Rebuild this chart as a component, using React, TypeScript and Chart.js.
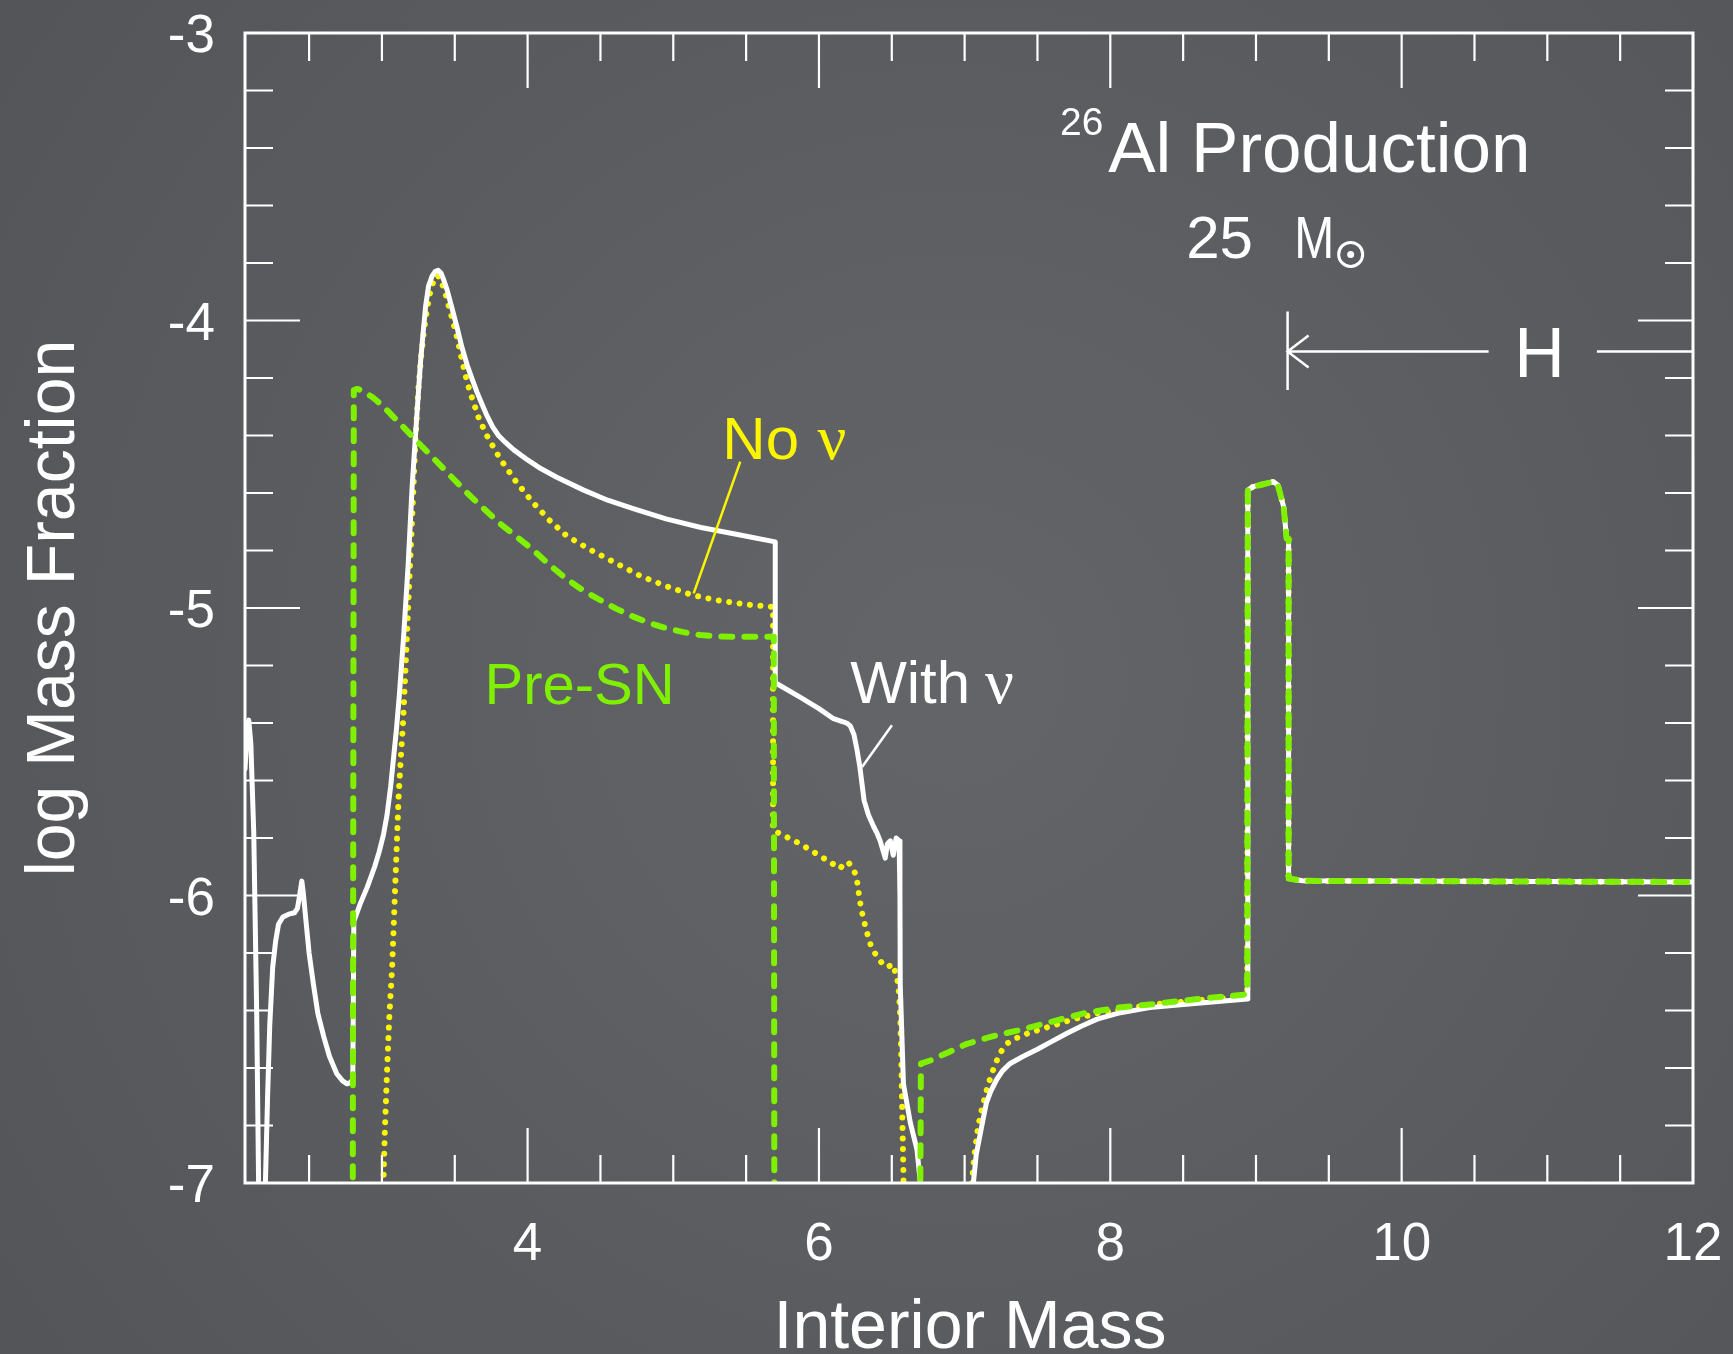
import { useEffect, useRef } from 'react';
import { Chart, registerables } from 'chart.js';

Chart.register(...registerables);

// ---------- data ----------
// "With ν" (white, solid)
const withNuX = [2.06, 2.075, 2.086, 2.10, 2.12, 2.14, 2.16, 2.19, 2.20, 2.215, 2.23, 2.25, 2.27, 2.29, 2.32, 2.36, 2.40, 2.42, 2.435, 2.45, 2.46, 2.475, 2.50, 2.53, 2.56, 2.60, 2.64, 2.69, 2.73, 2.76, 2.785, 2.80, 2.807, 2.85, 2.90, 2.95, 2.98, 3.01, 3.035, 3.06, 3.08, 3.10, 3.12, 3.15, 3.18, 3.207, 3.237, 3.264, 3.285, 3.30, 3.32, 3.345, 3.365, 3.386, 3.405, 3.425, 3.448, 3.48, 3.516, 3.55, 3.585, 3.62, 3.653, 3.69, 3.72, 3.76, 3.80, 3.85, 3.905, 4.0, 4.09, 4.2, 4.385, 4.55, 4.73, 4.95, 5.19, 5.45, 5.70, 5.70, 5.87, 6.0, 6.10, 6.16, 6.19, 6.215, 6.24, 6.26, 6.28, 6.295, 6.31, 6.34, 6.375, 6.40, 6.42, 6.455, 6.47, 6.49, 6.51, 6.53, 6.55, 6.556, 6.558, 6.58, 6.627, 6.673, 6.696, 6.70, 7.05, 7.06, 7.08, 7.107, 7.13, 7.15, 7.18, 7.22, 7.26, 7.31, 7.40, 7.50, 7.59, 7.70, 7.80, 7.91, 8.05, 8.27, 8.60, 8.94, 8.944, 8.98, 9.12, 9.15, 9.19, 9.21, 9.224, 9.224, 9.32, 12.0];
const withNuY = [-5.56, -5.42, -5.39, -5.47, -5.78, -6.4, -7.3, -7.3, -7.0, -6.70, -6.45, -6.25, -6.16, -6.10, -6.075, -6.065, -6.06, -6.045, -6.0, -5.95, -5.99, -6.07, -6.20, -6.31, -6.41, -6.49, -6.56, -6.62, -6.645, -6.655, -6.65, -6.64, -6.09, -6.03, -5.97, -5.90, -5.85, -5.79, -5.72, -5.62, -5.52, -5.42, -5.30, -5.09, -4.85, -4.58, -4.35, -4.15, -4.03, -3.95, -3.88, -3.845, -3.83, -3.825, -3.835, -3.86, -3.895, -3.955, -4.025, -4.095, -4.155, -4.205, -4.25, -4.295, -4.33, -4.37, -4.40, -4.425, -4.45, -4.485, -4.515, -4.545, -4.59, -4.625, -4.655, -4.69, -4.72, -4.745, -4.77, -5.26, -5.31, -5.35, -5.385, -5.395, -5.40, -5.41, -5.44, -5.49, -5.55, -5.61, -5.67, -5.72, -5.76, -5.785, -5.81, -5.87, -5.82, -5.81, -5.86, -5.80, -5.81, -6.0, -6.31, -6.655, -6.79, -6.884, -7.0, -7.3, -7.3, -7.0, -6.90, -6.83, -6.77, -6.72, -6.68, -6.64, -6.61, -6.585, -6.56, -6.535, -6.51, -6.48, -6.455, -6.43, -6.41, -6.39, -6.375, -6.36, -4.59, -4.578, -4.561, -4.572, -4.648, -4.758, -4.76, -5.941, -5.949, -5.953];

// "No ν" (yellow, dotted)
const noNuX = [3.006, 3.01, 3.02, 3.036, 3.05, 3.07, 3.085, 3.10, 3.115, 3.13, 3.145, 3.161, 3.184, 3.207, 3.23, 3.25, 3.27, 3.29, 3.31, 3.33, 3.35, 3.365, 3.379, 3.395, 3.41, 3.43, 3.448, 3.48, 3.516, 3.55, 3.585, 3.625, 3.665, 3.72, 3.81, 3.92, 4.04, 4.15, 4.27, 4.44, 4.61, 4.78, 4.957, 5.13, 5.30, 5.50, 5.685, 5.685, 5.87, 6.0, 6.146, 6.17, 6.20, 6.225, 6.25, 6.265, 6.28, 6.30, 6.33, 6.36, 6.40, 6.44, 6.467, 6.485, 6.50, 6.52, 6.536, 6.55, 6.558, 6.565, 6.57, 6.58, 6.585, 7.045, 7.05, 7.065, 7.085, 7.105, 7.13, 7.16, 7.20, 7.24, 7.29, 7.36, 7.43, 7.59, 7.75, 7.91, 8.27, 8.60, 8.94, 8.944, 8.98, 9.12, 9.15, 9.19, 9.21, 9.224, 9.224, 9.32, 12.0];
const noNuY = [-7.3, -7.0, -6.82, -6.60, -6.43, -6.25, -6.05, -5.85, -5.65, -5.52, -5.40, -5.22, -4.95, -4.69, -4.42, -4.24, -4.12, -4.03, -3.96, -3.905, -3.87, -3.85, -3.843, -3.85, -3.868, -3.897, -3.93, -3.99, -4.06, -4.14, -4.215, -4.28, -4.34, -4.40, -4.48, -4.56, -4.635, -4.695, -4.75, -4.80, -4.845, -4.89, -4.925, -4.955, -4.973, -4.988, -4.996, -5.773, -5.82, -5.86, -5.906, -5.89, -5.884, -5.90, -5.924, -5.96, -6.017, -6.07, -6.13, -6.18, -6.214, -6.24, -6.249, -6.245, -6.238, -6.26, -6.287, -6.34, -6.42, -6.56, -6.71, -6.97, -7.3, -7.3, -7.0, -6.91, -6.83, -6.77, -6.72, -6.66, -6.60, -6.55, -6.515, -6.495, -6.48, -6.455, -6.43, -6.41, -6.38, -6.365, -6.35, -4.59, -4.578, -4.561, -4.572, -4.648, -4.758, -4.76, -5.941, -5.949, -5.953];

// "Pre-SN" (green, dashed)
const preSnX = [2.80, 2.80, 2.807, 2.83, 2.86, 2.898, 2.93, 2.967, 3.01, 3.05, 3.127, 3.24, 3.356, 3.47, 3.585, 3.70, 3.81, 3.92, 4.04, 4.15, 4.27, 4.385, 4.50, 4.61, 4.73, 4.84, 4.957, 5.07, 5.186, 5.30, 5.45, 5.69, 5.694, 6.69, 6.696, 6.70, 6.764, 6.89, 7.016, 7.19, 7.36, 7.59, 7.816, 8.05, 8.274, 8.60, 8.914, 8.94, 8.944, 8.98, 9.12, 9.15, 9.19, 9.21, 9.224, 9.224, 9.32, 12.0];
const preSnY = [-7.3, -7.0, -4.242, -4.238, -4.243, -4.255, -4.265, -4.28, -4.30, -4.32, -4.36, -4.42, -4.48, -4.54, -4.60, -4.655, -4.706, -4.75, -4.799, -4.85, -4.90, -4.94, -4.973, -5.003, -5.031, -5.053, -5.071, -5.084, -5.094, -5.099, -5.10, -5.10, -7.3, -7.3, -7.0, -6.585, -6.574, -6.545, -6.516, -6.49, -6.47, -6.44, -6.41, -6.39, -6.379, -6.36, -6.345, -6.34, -4.59, -4.578, -4.561, -4.572, -4.648, -4.758, -4.76, -5.941, -5.949, -5.953];

// axes
const xMin = 2.06;
const xMax = 12;
const yMin = -7;
const yMax = -3;
const xTickLabels = [4, 6, 8, 10, 12];
const yTickLabels = [-3, -4, -5, -6, -7];
const xMinorStep = 0.5;
const yMinorStep = 0.2;

// annotation anchors (data coordinates)
const hBoundary = 9.217;
const hArrowY = -4.108;

const WHITE = '#ffffff';
const YELLOW = '#fbf500';
const GREEN = '#7ff000';
const SANS = '"Liberation Sans", Arial, Helvetica, sans-serif';
const SERIF = '"Liberation Serif", "DejaVu Serif", serif';

const toPoints = (xs: number[], ys: number[]) => xs.map((x, i) => ({ x, y: ys[i] }));

const overlayPlugin = {
  id: 'overlay',
  beforeDraw(chart: any) {
    const { ctx, width, height } = chart;
    ctx.save();
    const g = ctx.createRadialGradient(width * 0.55, height * 0.5, 80, width * 0.55, height * 0.5, 1150);
    g.addColorStop(0, '#626468');
    g.addColorStop(1, '#535559');
    ctx.fillStyle = g;
    ctx.fillRect(0, 0, width, height);
    ctx.restore();
  },
  afterDraw(chart: any) {
    const { ctx } = chart;
    const xs = chart.scales.x;
    const ys = chart.scales.y;
    const { left, right, top, bottom } = chart.chartArea;
    const X = (v: number) => xs.getPixelForValue(v);
    const Y = (v: number) => ys.getPixelForValue(v);

    ctx.save();
    ctx.strokeStyle = WHITE;
    ctx.fillStyle = WHITE;
    ctx.lineCap = 'butt';

    // ticks (inward, on all four sides)
    ctx.lineWidth = 2.2;
    const majorLen = 55;
    const minorLen = 28;
    const xStart = Math.ceil(xMin / xMinorStep);
    const xEnd = Math.floor(xMax / xMinorStep);
    for (let k = xStart; k <= xEnd; k++) {
      const v = k * xMinorStep;
      const isMajor = xTickLabels.some((t) => Math.abs(t - v) < 1e-6);
      const len = isMajor ? majorLen : minorLen;
      const px = X(v);
      ctx.beginPath();
      ctx.moveTo(px, bottom);
      ctx.lineTo(px, bottom - len);
      ctx.moveTo(px, top);
      ctx.lineTo(px, top + len);
      ctx.stroke();
    }
    const yStart = Math.round(yMin / yMinorStep);
    const yEnd = Math.round(yMax / yMinorStep);
    for (let k = yStart; k <= yEnd; k++) {
      const v = k * yMinorStep;
      const isMajor = yTickLabels.some((t) => Math.abs(t - v) < 1e-6);
      const len = isMajor ? majorLen : minorLen;
      const py = Y(v);
      ctx.beginPath();
      ctx.moveTo(left, py);
      ctx.lineTo(left + len, py);
      ctx.moveTo(right, py);
      ctx.lineTo(right - len, py);
      ctx.stroke();
    }

    // frame
    ctx.lineWidth = 3;
    ctx.strokeRect(left, top, right - left, bottom - top);

    // tick labels
    ctx.font = `53px ${SANS}`;
    ctx.textBaseline = 'alphabetic';
    ctx.textAlign = 'right';
    yTickLabels.forEach((t) => ctx.fillText(String(t), left - 30, Y(t) + 19));
    ctx.textAlign = 'center';
    xTickLabels.forEach((t) => ctx.fillText(String(t), X(t), bottom + 77));

    // axis titles
    ctx.font = `68px ${SANS}`;
    ctx.textAlign = 'center';
    ctx.fillText('Interior Mass', (left + right) / 2 + 1, bottom + 165);
    ctx.save();
    ctx.translate(74, (top + bottom) / 2);
    ctx.rotate(-Math.PI / 2);
    ctx.fillText('log Mass Fraction', 0, 0);
    ctx.restore();

    // title block
    ctx.textAlign = 'left';
    ctx.font = `39px ${SANS}`;
    ctx.fillText('26', X(7.655), Y(-3.354));
    ctx.font = `71px ${SANS}`;
    ctx.fillText('Al Production', X(7.986), Y(-3.483));
    ctx.font = `60px ${SANS}`;
    ctx.fillText('25', X(8.521), Y(-3.782));
    ctx.save();
    ctx.translate(X(9.262), Y(-3.782));
    ctx.scale(0.8, 1);
    ctx.fillText('M', 0, 0);
    ctx.restore();
    // solar symbol
    const sx = X(9.65);
    const sy = Y(-3.77);
    ctx.lineWidth = 3;
    ctx.beginPath();
    ctx.arc(sx, sy, 12, 0, Math.PI * 2);
    ctx.stroke();
    ctx.beginPath();
    ctx.arc(sx, sy, 3.5, 0, Math.PI * 2);
    ctx.fill();

    // H boundary arrow
    ctx.lineWidth = 2.5;
    const hx = X(hBoundary);
    const hy = Y(hArrowY);
    ctx.beginPath();
    ctx.moveTo(hx, Y(-3.969));
    ctx.lineTo(hx, Y(-4.242));
    ctx.moveTo(hx, hy);
    ctx.lineTo(X(10.597), hy);
    ctx.moveTo(X(11.34), hy);
    ctx.lineTo(right, hy);
    ctx.moveTo(hx + 21, hy - 16);
    ctx.lineTo(hx, hy);
    ctx.lineTo(hx + 21, hy + 16);
    ctx.stroke();
    ctx.font = `70px ${SANS}`;
    ctx.textAlign = 'center';
    ctx.fillText('H', X(10.947), Y(-4.195));

    // series labels
    ctx.textAlign = 'left';
    ctx.font = `60px ${SANS}`;
    ctx.fillStyle = YELLOW;
    ctx.fillText('No', X(5.337), Y(-4.483));
    ctx.font = `64px ${SERIF}`;
    ctx.fillText('ν', X(5.99), Y(-4.483));
    ctx.strokeStyle = YELLOW;
    ctx.lineWidth = 2.5;
    ctx.beginPath();
    ctx.moveTo(X(5.46), Y(-4.491));
    ctx.lineTo(X(5.14), Y(-4.949));
    ctx.stroke();

    ctx.fillStyle = GREEN;
    ctx.font = `58px ${SANS}`;
    ctx.fillText('Pre-SN', X(3.704), Y(-5.334));

    ctx.fillStyle = WHITE;
    ctx.font = `60px ${SANS}`;
    ctx.fillText('With', X(6.214), Y(-5.332));
    ctx.font = `64px ${SERIF}`;
    ctx.fillText('ν', X(7.14), Y(-5.332));
    ctx.strokeStyle = WHITE;
    ctx.lineWidth = 2.5;
    ctx.beginPath();
    ctx.moveTo(X(6.501), Y(-5.408));
    ctx.lineTo(X(6.296), Y(-5.553));
    ctx.stroke();

    ctx.restore();
  },
};

export default function App() {
  const ref = useRef<HTMLCanvasElement | null>(null);

  useEffect(() => {
    document.body.style.margin = '0';
    const canvas = ref.current;
    if (!canvas) return;
    const chart = new Chart(canvas, {
      type: 'line',
      data: {
        datasets: [
          {
            label: 'Pre-SN',
            data: toPoints(preSnX, preSnY),
            borderColor: GREEN,
            borderWidth: 6,
            borderDash: [11, 12],
            borderCapStyle: 'round',
            borderJoinStyle: 'round',
            pointRadius: 0,
            tension: 0,
            order: 0,
            clip: 0,
          },
          {
            label: 'With ν',
            data: toPoints(withNuX, withNuY),
            borderColor: WHITE,
            borderWidth: 5,
            borderCapStyle: 'round',
            borderJoinStyle: 'round',
            pointRadius: 0,
            tension: 0,
            order: 1,
            clip: 0,
          },
          {
            label: 'No ν',
            data: toPoints(noNuX, noNuY),
            borderColor: YELLOW,
            borderWidth: 6,
            borderDash: [0.01, 10.5],
            borderCapStyle: 'round',
            borderJoinStyle: 'round',
            pointRadius: 0,
            tension: 0,
            order: 2,
            clip: 0,
          },
        ],
      } as any,
      options: {
        animation: false,
        responsive: false,
        maintainAspectRatio: false,
        devicePixelRatio: 1,
        layout: { padding: { left: 245, right: 40, top: 33, bottom: 171 } },
        scales: {
          x: { type: 'linear', min: xMin, max: xMax, display: false },
          y: { type: 'linear', min: yMin, max: yMax, display: false },
        },
        plugins: {
          legend: { display: false },
          tooltip: { enabled: false },
        },
        elements: { point: { radius: 0 } },
      } as any,
      plugins: [overlayPlugin],
    });
    return () => chart.destroy();
  }, []);

  return (
    <div style={{ position: 'fixed', left: 0, top: 0, width: 1733, height: 1354 }}>
      <canvas ref={ref} width={1733} height={1354} style={{ width: 1733, height: 1354, display: 'block' }} />
    </div>
  );
}
